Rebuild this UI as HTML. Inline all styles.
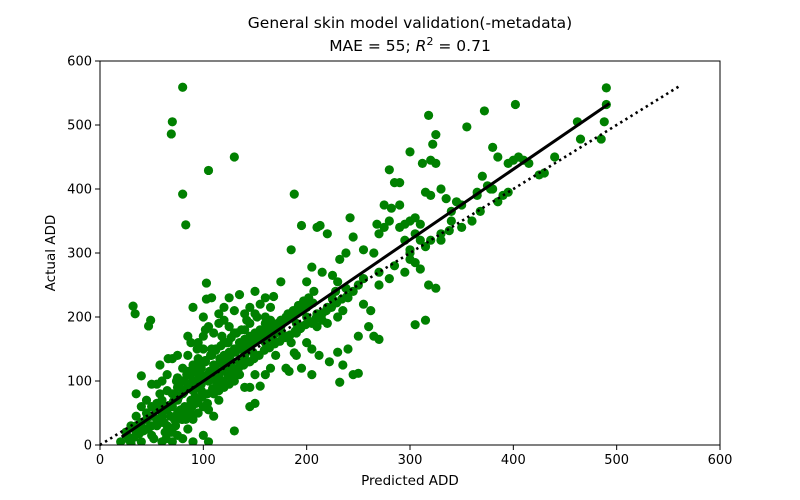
<!DOCTYPE html>
<html><head><meta charset="utf-8"><style>
html,body{margin:0;padding:0;background:#fff;}
svg{display:block;font-family:"DejaVu Sans","Liberation Sans",sans-serif;}
</style></head><body>
<svg id="chart" width="800" height="500" viewBox="0 0 800 500" xmlns="http://www.w3.org/2000/svg">
<rect width="800" height="500" fill="#fff"/>
<text x="410" y="28" font-size="15.5" text-anchor="middle">General skin model validation(-metadata)</text>
<text x="410" y="51" font-size="15.5" text-anchor="middle">MAE = 55; <tspan font-style="italic">R</tspan><tspan font-size="11" dy="-6">2</tspan><tspan dy="6"> = 0.71</tspan></text>
<g id="marks"></g>
<g id="axes"></g>
<text x="410" y="485" font-size="13.5" text-anchor="middle">Predicted ADD</text>
<text x="0" y="0" font-size="13.5" text-anchor="middle" transform="translate(55,253) rotate(-90)">Actual ADD</text>
</svg>
<script>
const xTicks = [0,100,200,300,400,500,600];
const yTicks = [0,100,200,300,400,500,600];
const fitLine = [1.104, -10.7];
const fitRange = [21, 493];
const identityRange = [0, 560];
const predicted = [490,490,488,485,462,465,430,425,402,372,355,405,395,385,380,370,365,390,395,410,415,400,380,375,385,368,350,345,340,330,318,325,322,320,325,312,315,320,330,335,340,310,305,300,295,290,285,280,275,282,290,300,280,275,268,265,270,290,295,300,305,310,315,320,330,338,300,305,295,280,270,310,318,325,315,305,265,270,250,232,255,245,250,240,242,220,232,238,255,245,210,213,195,188,205,215,225,230,238,225,220,210,200,190,205,215,235,228,200,185,175,168,165,160,155,150,140,130,120,125,135,145,150,152,160,170,180,175,185,190,195,205,212,222,230,235,240,245,250,260,262,180,183,170,165,150,155,145,140,150,145,130,160,145,135,125,120,110,115,105,100,98,95,90,110,115,105,100,108,103,103,90,85,88,85,80,75,70,75,65,60,55,58,50,45,40,35,40,50,45,35,30,25,30,20,35,40,50,55,60,65,70,75,80,85,90,95,100,65,70,75,80,85,90,95,100,105,110,115,105,100,90,60,50,70,40,30,80,75,60,55,120,125,130,110,115,100,95,85,125,130,135,140,145,150,155,160,165,170,140,135,128,120,118,112,108,102,95,90,85,80,75,70,65,60,55,50,45,40,35,110,115,100,95,102,120,125,130,140,145,160,165,175,185,190,195,210,220,200,205,32,34,49,47,80,83,105,130,80,70,69,175,168,188,120,135,155,180,200,215,230,255,270,285,300,350,360,440,378,365,45,55,62,68,72,78,82,88,92,98,104,112,118,122,128,138,148,158,26,28,33,38,42,48,52,58,63,68,73,78,83,88,93,98,58,66,74,84,94,108,116,124,132,142,
 62,67,71,76,81,86,91,96,101,106,111,116,121,126,131,136,141,146,151,156,161,166,171,176,181,186,191,196,201,206,64,69,73,79,84,89,94,99,104,109,114,119,124,129,134,139,144,149,154,159,164,169,174,179,184,189,194,199,204,209,214,219,224,229,234,239,72,77,82,87,92,97,102,107,112,117,122,127,132,137,142,147,152,157,162,167,172,177,182,187,192,197,202,207,212,217];
const actual = [558,532,505,478,505,478,425,422,532,522,497,450,440,450,465,420,395,390,395,445,440,445,400,405,380,365,375,380,350,330,515,485,470,445,440,440,395,390,400,385,365,345,355,350,345,410,410,430,375,370,375,458,350,340,345,300,330,340,320,300,330,320,310,320,320,335,290,285,270,260,270,275,250,245,195,188,170,165,112,98,220,240,250,230,355,330,290,300,305,325,340,343,343,392,278,270,265,255,245,228,215,205,200,190,190,195,210,240,255,305,255,232,215,230,220,205,205,210,215,230,235,215,240,200,190,180,170,195,160,140,120,110,140,130,145,125,150,110,170,185,210,120,115,140,120,110,92,90,90,65,60,22,110,130,110,120,140,125,110,100,150,120,110,100,175,190,185,200,230,253,228,215,170,160,140,120,90,135,140,110,100,95,80,60,70,60,80,108,95,40,45,30,20,10,5,20,25,30,40,45,55,60,70,80,90,85,95,105,30,20,15,10,25,40,50,60,55,45,70,5,15,5,5,15,5,5,2,40,50,65,55,90,95,100,80,85,80,70,60,145,150,160,165,170,175,180,160,170,175,140,130,130,160,170,150,140,130,135,125,115,100,105,80,85,70,65,45,50,35,30,110,205,170,160,180,195,185,175,180,190,200,195,185,200,175,185,185,190,160,150,217,205,195,186,559,344,429,450,392,505,486,175,163,144,130,150,165,200,215,205,200,260,250,280,305,340,350,450,400,390,25,30,35,20,40,45,60,50,75,95,65,100,115,125,120,135,145,175,15,8,12,18,22,28,10,35,20,45,30,55,40,70,65,85,125,135,100,110,150,150,135,160,175,195,
 55,62,68,75,82,88,95,102,108,115,120,128,132,140,145,150,158,162,168,172,178,182,188,192,198,202,208,212,218,222,10,20,30,40,50,60,70,75,80,88,95,100,108,112,120,125,130,135,140,148,152,158,162,168,172,178,182,188,192,198,205,210,215,222,228,232,80,90,100,110,118,125,132,140,148,155,160,168,175,180,150,160,165,172,180,185,190,195,205,210,218,225,230,240];

const X0=100, X1=720, Y0=445, Y1=61;
const xs = v => X0 + (v - 0) / 600 * (X1 - X0);
const ys = v => Y0 - (v - 0) / 600 * (Y0 - Y1);
const NS = "http://www.w3.org/2000/svg";
const marks = document.getElementById('marks');
const axes = document.getElementById('axes');
function mk(tag, attrs, parent){const e=document.createElementNS(NS,tag);for(const k in attrs)e.setAttribute(k,attrs[k]);parent.appendChild(e);return e;}

const clip = mk('clipPath',{id:'plotclip'},marks);
mk('rect',{x:X0,y:Y1,width:X1-X0,height:Y0-Y1},clip);
const inner = mk('g',{'clip-path':'url(#plotclip)'},marks);

const n = Math.min(predicted.length, actual.length);
for (let i=0;i<n;i++){
  const c = mk('circle',{cx:xs(predicted[i]),cy:ys(actual[i]),r:4.6,fill:'#008000'},inner);
  
  
}
const fl = mk('line',{x1:xs(fitRange[0]),y1:ys(fitLine[0]*fitRange[0]+fitLine[1]),x2:xs(fitRange[1]),y2:ys(fitLine[0]*fitRange[1]+fitLine[1]),stroke:'#000','stroke-width':3},inner);


const il = mk('line',{x1:xs(identityRange[0]),y1:ys(identityRange[0]),x2:xs(identityRange[1]),y2:ys(identityRange[1]),stroke:'#000','stroke-width':2.6,'stroke-dasharray':'2.4 3.6'},marks);



const frame = mk('rect',{x:X0,y:Y1,width:X1-X0,height:Y0-Y1,fill:'none',stroke:'#000','stroke-width':1},axes);


xTicks.forEach(t=>{
  const x=xs(t);
  const tk=mk('line',{x1:x,y1:Y0,x2:x,y2:Y0+5,stroke:'#000','stroke-width':1},axes);
  
  
  const tl=mk('text',{x:x,y:Y0+19,'font-size':13,'text-anchor':'middle'},axes);
  tl.textContent=t;
  
  
});
yTicks.forEach(t=>{
  const y=ys(t);
  const tk=mk('line',{x1:X0-5,y1:y,x2:X0,y2:y,stroke:'#000','stroke-width':1},axes);
  
  
  const tl=mk('text',{x:X0-8,y:y+4.5,'font-size':13,'text-anchor':'end'},axes);
  tl.textContent=t;
  
  
});
</script>
</body></html>
